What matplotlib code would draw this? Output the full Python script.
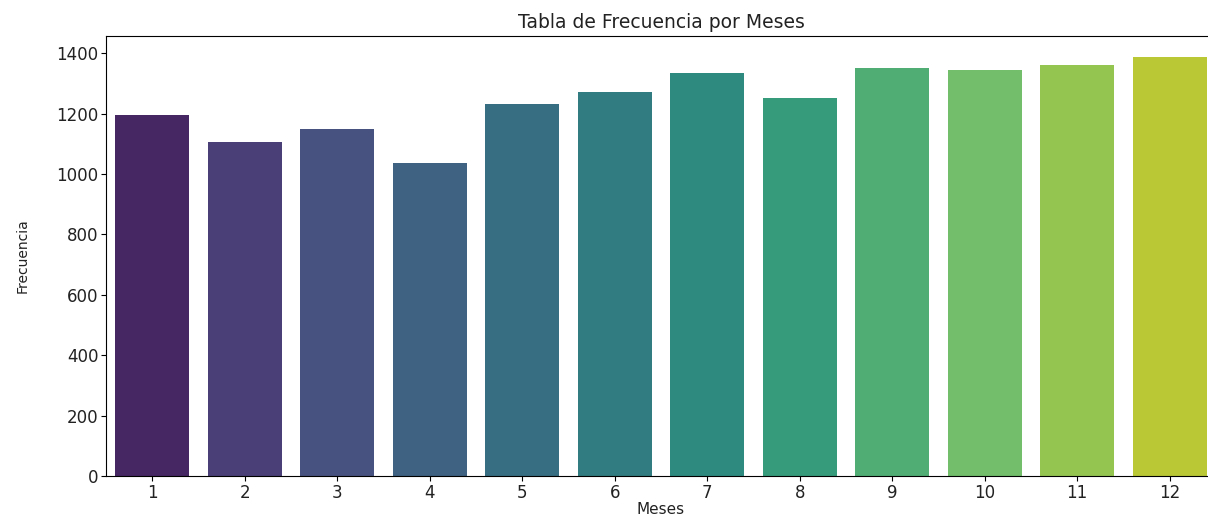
import numpy as np
import pandas as pd
import matplotlib
matplotlib.use("Agg")
import matplotlib.pyplot as plt
import seaborn as sns

# frecuencia por mes
meses = [1, 2, 3, 4, 5, 6, 7, 8, 9, 10, 11, 12]
frecuencia = [1197, 1105, 1149, 1036, 1233, 1270, 1333, 1251, 1350, 1344, 1361, 1388]

df = pd.DataFrame({"Meses": [str(m) for m in meses], "Frecuencia": frecuencia})

# paleta viridis discreta, como la de seaborn con saturacion 0.75
colores = [sns.desaturate(c, 0.75) for c in sns.color_palette("viridis", len(meses))]

fig = plt.figure(figsize=(12.08, 5.17), dpi=100)
# el original esta recortado a la derecha, por eso el eje sale un poco del lienzo
ax = fig.add_axes([106 / 1208, 41 / 517, 1110 / 1208, 440 / 517])

sns.barplot(data=df, x="Meses", y="Frecuencia", hue="Meses", palette=colores,
            saturation=1, legend=False, ax=ax)

ax.set_title("Tabla de Frecuencia por Meses", fontsize=13.5, pad=6, color="#222222")
ax.set_xlabel("Meses", fontsize=11, labelpad=0, color="#222222")
ax.set_ylabel("Frecuencia", fontsize=10, labelpad=19, color="#222222")
ax.tick_params(labelsize=12, pad=2, labelcolor="#222222")
ax.set_ylim(0, 1457)

fig.savefig("out.png", dpi=100)
